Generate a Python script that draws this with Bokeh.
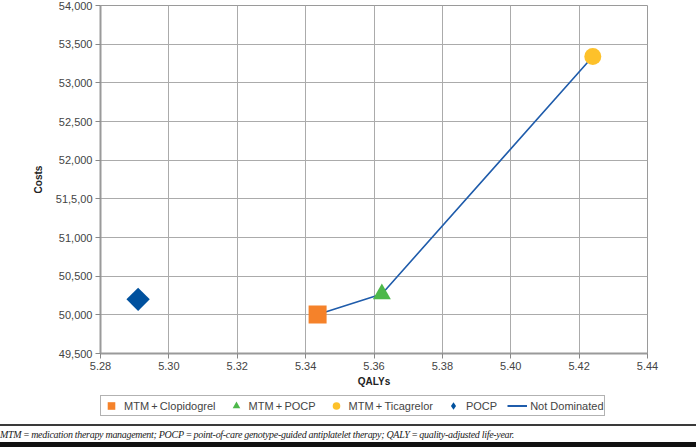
import math
from bokeh.plotting import figure
from bokeh.models import (Range1d, FixedTicker, PrintfTickFormatter,
                          NumeralTickFormatter, Legend, LegendItem, Div)
from bokeh.layouts import column
from bokeh.embed import file_html
from bokeh.resources import INLINE

# ---- data ----
strategies = ["MTM\u2009+\u2009Clopidogrel", "MTM\u2009+\u2009POCP", "MTM\u2009+\u2009Ticagrelor", "POCP"]
qalys = [5.3435, 5.3623, 5.4240, 5.2910]
costs = [50005, 50270, 53340, 50200]
frontier_label = "Not Dominated"
frontier_qalys = [5.3435, 5.3623, 5.4240]
frontier_costs = [50005, 50270, 53340]
x_ticks = [5.28, 5.30, 5.32, 5.34, 5.36, 5.38, 5.40, 5.42, 5.44]
y_ticks = [49500, 50000, 50500, 51000, 51500, 52000, 52500, 53000, 53500, 54000]
footnote = ("MTM\u2009=\u2009medication therapy management; POCP\u2009=\u2009point-of-care genotype-guided "
            "antiplatelet therapy; QALY\u2009=\u2009quality-adjusted life-year.")

FONT = "Liberation Sans"
colors = ["#f5822a", "#4db84a", "#fdc12a", "#00519e"]
line_color = "#1f5cab"
markers = ["square", "triangle", "circle", "square"]
legend_markers = ["square", "triangle", "circle", "diamond"]
angles = [0, 0, 0, math.pi / 4]
sizes = [18, 18, 17, 16.5]

# ---- main plot ----
p = figure(width=696, height=390, output_backend="svg", toolbar_location=None,
           x_range=Range1d(5.28, 5.44), y_range=Range1d(49500, 54000),
           min_border_left=100, min_border_right=49, min_border_top=5, min_border_bottom=37)
p.background_fill_color = "white"
p.border_fill_color = "white"
p.outline_line_color = "#9a9a9a"
p.outline_line_width = 1

for ax in (p.xaxis[0], p.yaxis[0]):
    ax.axis_line_color = "#9a9a9a"
    ax.axis_line_width = 2
    ax.major_tick_out = 5
    ax.major_tick_in = 0
    ax.major_tick_line_color = "#888888"
    ax.minor_tick_line_color = None
    ax.major_label_text_font = FONT
    ax.major_label_text_font_size = "11px"
    ax.major_label_text_color = "#444444"
    ax.axis_label_text_font = FONT
    ax.axis_label_text_font_style = "bold"
    ax.axis_label_text_font_size = "10px"
    ax.axis_label_text_color = "#222222"

p.xaxis.ticker = FixedTicker(ticks=x_ticks)
p.xaxis.formatter = PrintfTickFormatter(format="%.2f")
p.xaxis.axis_label = "QALYs"
p.xaxis.major_label_standoff = 3
p.xaxis.axis_label_standoff = 3

p.yaxis.ticker = FixedTicker(ticks=y_ticks)
p.yaxis.formatter = NumeralTickFormatter(format="0,0")
p.yaxis.major_label_overrides = {51500: "51,5,00"}
p.yaxis.axis_label = "Costs"
p.yaxis.major_label_standoff = 3
p.yaxis.axis_label_standoff = 9

p.grid.grid_line_color = "#ababab"
p.grid.grid_line_width = 1

p.line(frontier_qalys, frontier_costs, line_color=line_color, line_width=1.6)
for i in range(len(strategies)):
    p.scatter([qalys[i]], [costs[i]], marker=markers[i], size=sizes[i], angle=angles[i],
              fill_color=colors[i], line_color=None)

# ---- legend strip (own figure; glyphs lie outside its ranges, only the legend shows) ----
lg = figure(width=696, height=34, output_backend="svg", toolbar_location=None,
            x_range=Range1d(0, 1), y_range=Range1d(0, 1), min_border=0)
lg.axis.visible = False
lg.grid.visible = False
lg.outline_line_color = None
lg.background_fill_color = "white"
lg.border_fill_color = "white"

items = []
for i in range(len(strategies)):
    r = lg.scatter([qalys[i]], [costs[i]], marker=legend_markers[i], size=sizes[i],
                   fill_color=colors[i], line_color=None)
    items.append(LegendItem(label=strategies[i], renderers=[r]))
rl = lg.line(frontier_qalys, frontier_costs, line_color=line_color, line_width=2)
items.append(LegendItem(label=frontier_label, renderers=[rl]))

legend = Legend(items=items, orientation="horizontal", location=(0, 8))
legend.label_text_font = FONT
legend.label_text_font_size = "11px"
legend.label_text_color = "#444444"
legend.label_standoff = 3
legend.glyph_width = 20
legend.glyph_height = 19
legend.label_height = 13
legend.spacing = 10
legend.padding = 0
legend.margin = 0
legend.border_line_color = "#666666"
legend.border_line_width = 1
legend.background_fill_alpha = 1
lg.add_layout(legend, "center")

# ---- footnote ----
div = Div(text=('<div style="box-sizing:border-box;height:23px;border-top:2px solid #3a3a3a;'
                'border-bottom:5px solid #111;font-family:\'Liberation Serif\';font-style:italic;'
                'font-size:10px;letter-spacing:-0.3px;color:#222;line-height:17px;padding:0;'
                'width:696px;white-space:nowrap;overflow:hidden">' + footnote + '</div>'),
          width=696, height=23, margin=0)

layout = column(p, lg, div, spacing=0)
open("out.html", "w").write(file_html(layout, INLINE))
